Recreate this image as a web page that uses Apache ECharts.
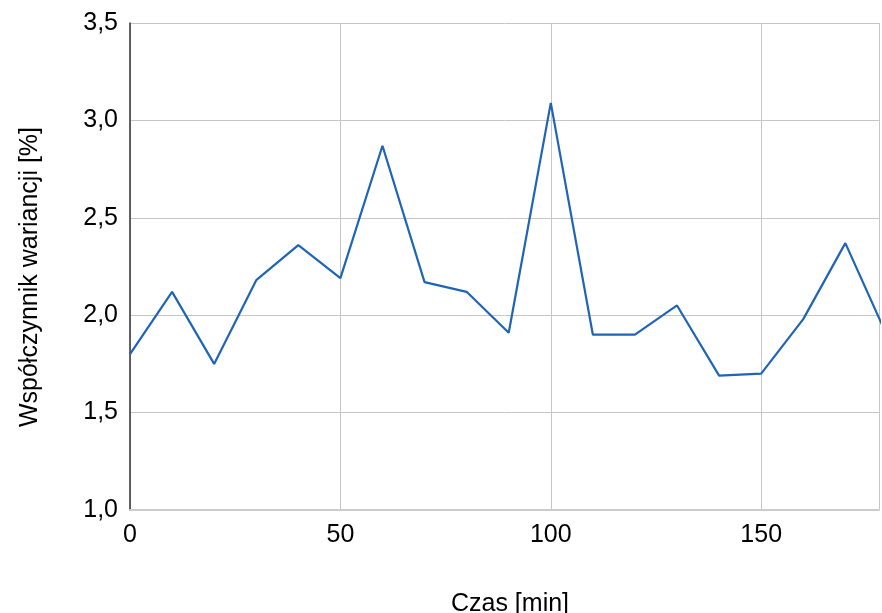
<!DOCTYPE html>
<html>
<head>
<meta charset="utf-8">
<script src="https://cdn.jsdelivr.net/npm/echarts@6/dist/echarts.min.js"></script>
<style>html,body{margin:0;padding:0;background:#fff}#c{width:882px;height:613px}</style>
</head>
<body>
<div id="c"></div>
<script>
const timeMin = [0, 10, 20, 30, 40, 50, 60, 70, 80, 90, 100, 110, 120, 130, 140, 150, 160, 170, 180];
const cvPercent = [1.80, 2.12, 1.75, 2.18, 2.36, 2.19, 2.87, 2.17, 2.12, 1.91, 3.09, 1.90, 1.90, 2.05, 1.69, 1.70, 1.98, 2.37, 1.89];
const xTitle = 'Czas [min]';
const yTitle = 'Współczynnik wariancji [%]';

const chart = echarts.init(document.getElementById('c'), null, {renderer: 'canvas'});
const font = 'Liberation Sans, Arial, sans-serif';
chart.setOption({
  animation: false,
  grid: {left: 130, top: 23, width: 752, height: 487, containLabel: false},
  xAxis: {
    type: 'value', min: 0, max: 178, interval: 50,
    axisLine: {show: true, lineStyle: {color: '#cccccc', width: 2}},
    axisTick: {show: false},
    axisLabel: {color: '#000', fontFamily: font, fontSize: 25, margin: 13,
      formatter: v => (v % 50 === 0 ? String(v) : '')},
    splitLine: {show: true, lineStyle: {color: '#c6c6c6', width: 1}}
  },
  yAxis: {
    type: 'value', min: 1.0, max: 3.5, interval: 0.5,
    axisLine: {show: true, lineStyle: {color: '#333', width: 1.5}},
    axisTick: {show: false},
    axisLabel: {color: '#000', fontFamily: font, fontSize: 25, margin: 12,
      formatter: v => v.toFixed(1).replace('.', ',')},
    splitLine: {show: true, lineStyle: {color: '#c6c6c6', width: 1}}
  },
  graphic: [
    {type: 'text', x: 30, y: 277, rotation: Math.PI / 2,
      style: {text: yTitle, fill: '#000', font: '25px ' + font, textAlign: 'center', textVerticalAlign: 'middle'}},
    {type: 'text', x: 510, y: 604,
      style: {text: xTitle, fill: '#000', font: '25px ' + font, textAlign: 'center', textVerticalAlign: 'middle'}}
  ],
  series: [{
    type: 'line',
    data: timeMin.map((t, i) => [t, cvPercent[i]]),
    showSymbol: false,
    lineStyle: {color: '#1f64b5', width: 2.2},
    itemStyle: {color: '#1f64b5'},
    clip: true
  }]
});
</script>
</body>
</html>
